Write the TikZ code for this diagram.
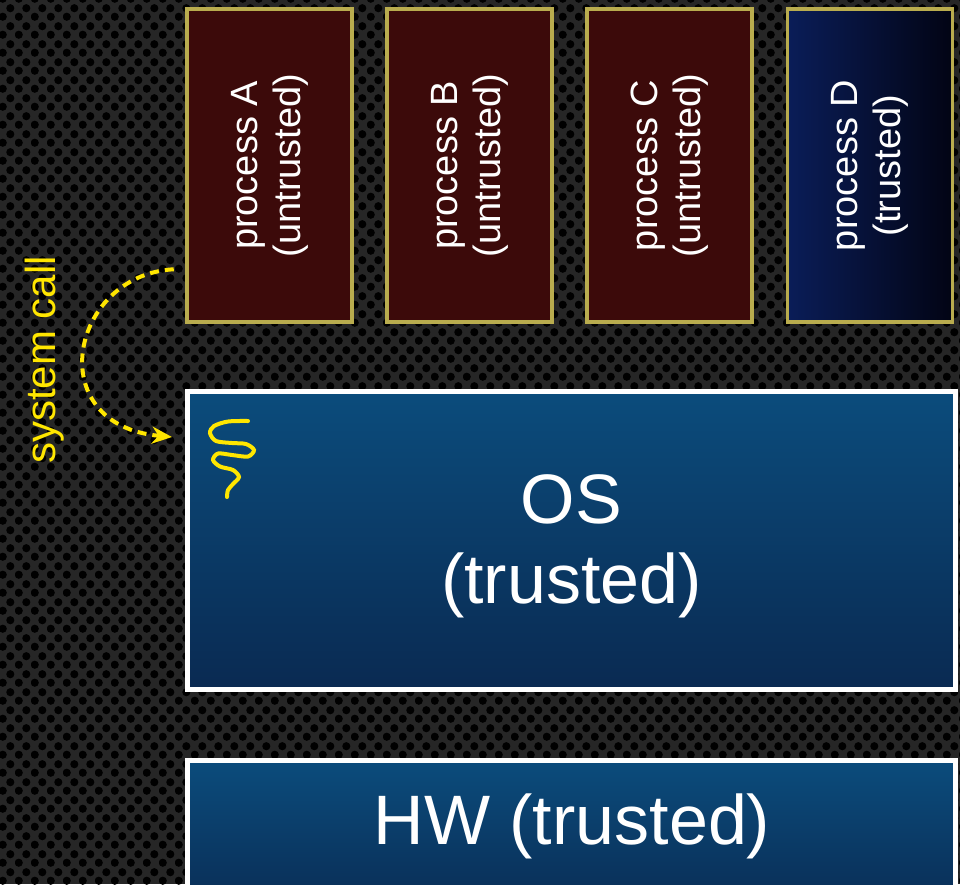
\documentclass[tikz,border=0pt]{standalone}
\usepackage{fontspec}
\setmainfont{Liberation Sans}
\usetikzlibrary{arrows.meta, calc, patterns}

\definecolor{bgdark}{HTML}{262626}
\definecolor{procred}{HTML}{3C0A0A}
\definecolor{procedge}{HTML}{B9AC4E}
\definecolor{trustleft}{HTML}{0A1D58}
\definecolor{trustright}{HTML}{020414}
\definecolor{kerntop}{HTML}{0B4C7C}
\definecolor{kernbottom}{HTML}{0A2A52}
\definecolor{callyellow}{HTML}{FFE600}

\pgfdeclarepatternformonly{holes}{\pgfpoint{0pt}{0pt}}{\pgfpoint{16pt}{18pt}}{\pgfpoint{16pt}{18pt}}{
	\pgfpathcircle{\pgfpoint{4pt}{4.5pt}}{4.3pt}
	\pgfpathcircle{\pgfpoint{12pt}{13.5pt}}{4.3pt}
	\pgfusepath{fill}
}

\tikzset{
	procbox/.style={draw=procedge, line width=3.5pt, rectangle, inner sep=0pt,
		minimum width=165pt, minimum height=313pt},
	untrusted/.style={procbox, fill=procred},
	trusted/.style={procbox, left color=trustleft, right color=trustright},
	proctext/.style={rotate=90, align=center, text=white,
		font=\fontsize{38}{43}\selectfont},
	kernbox/.style={draw=white, line width=5pt, rectangle, inner sep=0pt,
		minimum width=768pt, top color=kerntop, bottom color=kernbottom},
	bigtext/.style={align=center, text=white, font=\fontsize{70}{80}\selectfont}
}

\begin{document}
\begin{tikzpicture}[x=1pt, y=-1pt]
	\def \pitch {200}
	\def \rowy {165.5}

	\useasboundingbox (0,0) rectangle (960,884);
	\clip (0,0) rectangle (960,884);
	\fill[bgdark] (0,0) rectangle (960,884);
	\fill[pattern=holes, pattern color=black] (0,0) rectangle (960,884);

	% processes
	\node[untrusted] (procA) at (269.5, \rowy) {};
	\node[untrusted] (procB) at ({269.5 + \pitch}, \rowy) {};
	\node[untrusted] (procC) at ({269.5 + 2*\pitch}, \rowy) {};
	\node[trusted]   (procD) at ({270 + 3*\pitch}, \rowy) {};

	\node[proctext] (procAtext) at (procA) {process A\\(untrusted)};
	\node[proctext] (procBtext) at (procB) {process B\\(untrusted)};
	\node[proctext] (procCtext) at (procC) {process C\\(untrusted)};
	\node[proctext] (procDtext) at (procD) {process D\\(trusted)};

	% kernel and hardware
	\node[kernbox, minimum height=298pt] (os) at (571.5, 540.5) {};
	\node[bigtext] (ostext) at ($(os.center)+(0,6)$) {OS\\(trusted)};

	\node[kernbox, minimum height=160pt] (hw) at (571.5, 840) {};
	\node[bigtext] (hwtext) at (572, 826) {HW (trusted)};

	% system call
	\coordinate (scfrom) at ($(procA.south west)+(-11.5,-54.5)$);
	\coordinate (scto)   at ($(os.north west)+(-13,48)$);
	\draw[callyellow, line width=4pt, dash pattern=on 9pt off 6pt,
		-{Stealth[length=20pt, width=17pt]}]
		(scfrom) .. controls (70,275) and (40,425) .. (scto);
	\node[rotate=90, text=callyellow, font=\fontsize{42}{46}\selectfont]
		(syscall) at (45, 360) {system call};

	% thread
	\draw[callyellow, line width=4pt, line cap=round] plot[smooth] coordinates {
		(248,421) (228,421.5) (214,426) (210,433) (216,441) (232,443)
		(246,444) (254,450) (248,456.5) (232,455) (218,453.5) (213,460)
		(220,466.5) (233,470) (239,477) (233,484) (228,490) (227,497)};
\end{tikzpicture}
\end{document}
